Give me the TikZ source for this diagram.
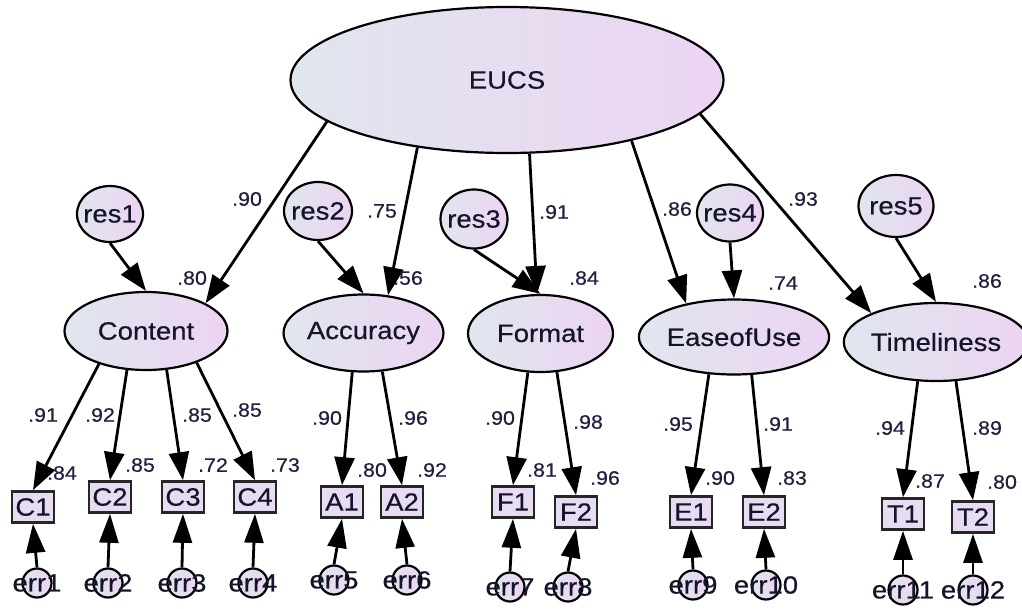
\documentclass[tikz,border=0pt]{standalone}
\usepackage{fontspec}
\setmainfont{Liberation Sans}
\newfontfamily\dfont[FakeStretch=1.1,FakeBold=0.4]{Liberation Sans}
\usetikzlibrary{shapes.geometric,arrows.meta}
\definecolor{lc}{RGB}{224,230,238}
\definecolor{rc}{RGB}{236,212,242}
\definecolor{boxfill}{RGB}{232,220,242}
\definecolor{txt}{RGB}{20,20,42}
\definecolor{labc}{RGB}{32,32,64}
\tikzset{
  base/.style={draw=black, line width=2.2pt, left color=lc, right color=rc, inner sep=0pt, text=txt},
  lat/.style={base, ellipse, font=\dfont\fontsize{25}{25}\selectfont},
  resc/.style={base, ellipse, label={[txt2]center:#1}},
  obs/.style={draw=black!85, line width=2.6pt, fill=boxfill, rectangle, minimum width=42pt, minimum height=31pt, inner sep=0pt, text=txt, font=\dfont\fontsize{25}{25}\selectfont},
  errc/.style={base, circle, minimum size=29pt, label={[txt2]center:#1}},
  txt2/.style={inner sep=0pt, text=txt, font=\dfont\fontsize{25}{25}\selectfont},
  arr/.style={draw=black, line width=2.8pt, -{Triangle[length=28pt 0,width=20pt 0]}},
  earr/.style={draw=black, line width=2.8pt, -{Triangle[length=29pt 0,width=19pt 0]}},
  lab/.style={inner sep=0pt, text=labc, font=\dfont\fontsize{19.5}{19.5}\selectfont},
}
\begin{document}
\begin{tikzpicture}[x=1pt,y=-1pt]
\useasboundingbox (0,0) rectangle (1022,608);
% latent variables
\node[lat, minimum width=433pt, minimum height=146pt] (EUCS) at (507,80) {EUCS};
\node[lat, minimum width=163pt, minimum height=78pt] (Content) at (146,331) {Content};
\node[lat, minimum width=157pt, minimum height=77pt] (Accuracy) at (363.5,333) {Accuracy};
\node[lat, minimum width=145pt, minimum height=77pt] (Format) at (540.5,333.5) {Format};
\node[lat, minimum width=188pt, minimum height=75pt] (EaseofUse) at (734,337) {EaseofUse};
\node[lat, minimum width=170pt, minimum height=78pt] (Timeliness) at (936,342) {Timeliness};
% residuals
\node[resc=res1, minimum width=66pt, minimum height=56pt] (res1) at (110,214) {};
\node[resc=res2, minimum width=68pt, minimum height=58pt] (res2) at (318,211) {};
\node[resc=res3, minimum width=67pt, minimum height=59pt] (res3) at (474,219) {};
\node[resc=res4, minimum width=66pt, minimum height=57pt] (res4) at (730,213) {};
\node[resc=res5, minimum width=75pt, minimum height=62pt] (res5) at (896,206) {};
% observed
\node[obs] (C1) at (33,507) {C1};
\node[obs] (C2) at (110,497) {C2};
\node[obs] (C3) at (183,497) {C3};
\node[obs] (C4) at (255,497) {C4};
\node[obs] (A1) at (342,502) {A1};
\node[obs] (A2) at (402,502) {A2};
\node[obs] (F1) at (513,502) {F1};
\node[obs] (F2) at (576,512) {F2};
\node[obs] (E1) at (691,512) {E1};
\node[obs] (E2) at (764,512) {E2};
\node[obs] (T1) at (903,514) {T1};
\node[obs] (T2) at (973,517) {T2};
% errors
\node[errc=err1] (err1) at (37,583) {};
\node[errc=err2] (err2) at (108,583) {};
\node[errc=err3] (err3) at (182,583) {};
\node[errc=err4] (err4) at (253,583) {};
\node[errc=err5] (err5) at (334,580) {};
\node[errc=err6] (err6) at (407,580) {};
\node[errc=err7] (err7) at (510,587) {};
\node[errc=err8] (err8) at (568,587) {};
\node[errc=err9] (err9) at (693,585) {};
\node[errc=err10] (err10) at (766,585) {};
\node[errc=err11] (err11) at (903,590) {};
\node[errc=err12] (err12) at (973,590) {};
% structural paths
\draw[arr] (EUCS.193) -- (Content.25);
\draw[arr] (EUCS.217) -- (Accuracy.57);
\draw[arr] (EUCS.287) -- (Format.95);
\draw[arr] (EUCS.334) -- (EaseofUse.145);
\draw[arr] (EUCS.350) -- (Timeliness.156);
% residual paths
\draw[arr] (res1.south) -- (Content.north);
\draw[arr] (res2.south) -- (Accuracy.north);
\draw[arr] (res3.south) -- (Format.north);
\draw[arr] (res4.south) -- (EaseofUse.north);
\draw[arr] (res5.south) -- (Timeliness.north);
% loadings
\draw[arr] (Content.215) -- (C1.north);
\draw[arr] (Content.244) -- (C2.north);
\draw[arr] (Content.298) -- (C3.north);
\draw[arr] (Content.328) -- (C4.north);
\draw[arr] (Accuracy.254) -- (A1.north);
\draw[arr] (Accuracy.296) -- (A2.north);
\draw[arr] (Format.252) -- (F1.north);
\draw[arr] (Format.293) -- (F2.north);
\draw[arr] (EaseofUse.236) -- (E1.north);
\draw[arr] (EaseofUse.295) -- (E2.north);
\draw[arr] (Timeliness.245) -- (T1.north);
\draw[arr] (Timeliness.297) -- (T2.north);
% error paths
\foreach \e/\o in {err1/C1,err2/C2,err3/C3,err4/C4,err5/A1,err6/A2,err7/F1,err8/F2,err9/E1,err10/E2,err11/T1,err12/T2}
  \draw[earr] (\e.north) -- (\o.south);
% labels
\node[lab] (l1) at (247,199) {.90};
\node[lab] (l2) at (382,211) {.75};
\node[lab] (l3) at (554,212) {.91};
\node[lab] (l4) at (677,209) {.86};
\node[lab] (l5) at (803,199) {.93};
\node[lab] (l6) at (192,278) {.80};
\node[lab] (l7) at (408,278) {.56};
\node[lab] (l8) at (584,278) {.84};
\node[lab] (l9) at (783,283) {.74};
\node[lab] (l10) at (987,281) {.86};
\node[lab] (l11) at (43,415) {.91};
\node[lab] (l12) at (100,415) {.92};
\node[lab] (l13) at (197,415) {.85};
\node[lab] (l14) at (247,410) {.85};
\node[lab] (l15) at (62,473) {.84};
\node[lab] (l16) at (140,465) {.85};
\node[lab] (l17) at (213,465) {.72};
\node[lab] (l18) at (285,465) {.73};
\node[lab] (l19) at (327,418) {.90};
\node[lab] (l20) at (413,418) {.96};
\node[lab] (l21) at (372,470) {.80};
\node[lab] (l22) at (432,470) {.92};
\node[lab] (l23) at (500,418) {.90};
\node[lab] (l24) at (588,422) {.98};
\node[lab] (l25) at (542,470) {.81};
\node[lab] (l26) at (605,478) {.96};
\node[lab] (l27) at (678,424) {.95};
\node[lab] (l28) at (778,424) {.91};
\node[lab] (l29) at (720,478) {.90};
\node[lab] (l30) at (792,478) {.83};
\node[lab] (l31) at (890,428) {.94};
\node[lab] (l32) at (987,428) {.89};
\node[lab] (l33) at (930,481) {.87};
\node[lab] (l34) at (1002,482) {.80};
\end{tikzpicture}
\end{document}
